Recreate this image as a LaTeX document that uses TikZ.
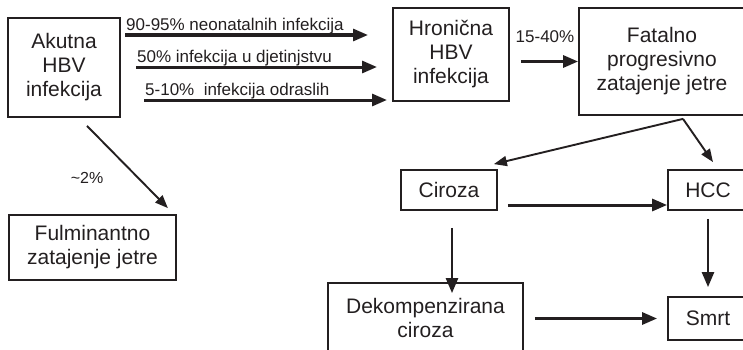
\documentclass[tikz,border=0pt]{standalone}
\usepackage{fontspec}
\setmainfont{Liberation Sans}
\usetikzlibrary{arrows.meta}
\definecolor{ink}{HTML}{231F20}
\tikzset{
	box/.style={draw=ink, line width=1.8pt, text=ink, align=center, inner sep=0pt, font=\fontsize{21}{24}\selectfont},
	arr/.style={draw=ink, line width=3pt, -{Triangle[length=15pt,width=12pt]}},
	arrthin/.style={draw=ink, line width=1.9pt, -{Triangle[length=13pt,width=10pt]}},
	lbl/.style={text=ink, inner sep=1pt, font=\fontsize{17}{20}\selectfont}
}
\begin{document}
\begin{tikzpicture}[x=1pt,y=1pt]
		\useasboundingbox (0,0) rectangle (743,349);
		\node[box, minimum width=112pt, minimum height=99pt] (akut) at (64,281.5) {Akutna\\HBV\\infekcija};
		\node[box, minimum width=116pt, minimum height=93pt] (hron) at (451,294.5) {Hronična\\HBV\\infekcija};
		\node[box, minimum width=166pt, minimum height=107pt] (fatal) at (662,287.5) {Fatalno\\progresivno\\zatajenje jetre};
		\node[box, minimum width=167pt, minimum height=65pt] (fulm) at (92.5,101.5) {Fulminantno\\zatajenje jetre};
		\node[box, minimum width=96pt, minimum height=40pt] (ciroza) at (449,159) {Ciroza};
		\node[box, minimum width=80pt, minimum height=40pt] (hcc) at (708,159) {HCC};
		\node[box, minimum width=195pt, minimum height=70pt] (dekomp) at (425.5,31) {Dekompenzirana\\ciroza};
		\node[box, minimum width=80pt, minimum height=43pt] (smrt) at (708,30.5) {Smrt};
		\coordinate (n1s) at (125,314);
		\coordinate (n1e) at (368,314);
		\coordinate (n2s) at (136,282);
		\coordinate (n2e) at (377,282);
		\coordinate (n3s) at (144,249);
		\coordinate (n3e) at (387,249);
		\draw[arr] (n1s) -- (n1e);
		\draw[arr] (n2s) -- (n2e);
		\draw[arr] (n3s) -- (n3e);
		\node[lbl, anchor=south west] (l1) at (n1s) {90-95\% neonatalnih infekcija};
		\node[lbl, anchor=south west] (l2) at (n2s) {50\% infekcija u djetinjstvu};
		\node[lbl, anchor=south west] (l3) at (n3s) {5-10\%\ \ infekcija odraslih};
		\draw[arr] ([xshift=11pt]hron.east |- fatal.west) -- (fatal.west);
		\node[lbl] (l4) at (545,312) {15-40\%};
		\draw[arrthin] ([shift={(23pt,-8pt)}]akut.south) -- ([shift={(-9pt,6pt)}]fulm.north east);
		\node[lbl, font=\fontsize{16}{19}\selectfont] (l5) at (87,171) {\textasciitilde2\%};
		\coordinate (split) at ([shift={(21pt,-3pt)}]fatal.south);
		\draw[arrthin] (split) -- ([shift={(-4pt,5pt)}]ciroza.north east);
		\draw[arrthin] (split) -- ([shift={(5pt,7pt)}]hcc.north);
		\draw[arr] ([shift={(10pt,-15pt)}]ciroza.east) -- ([yshift=-15pt]hcc.west);
		\draw[arr, line width=2.5pt, shorten >=6pt] ([shift={(3pt,-17pt)}]ciroza.south) -- ([shift={(3pt,-17pt)}]ciroza.south |- dekomp.north);
		\draw[arr, line width=2.5pt, shorten >=9pt] ([yshift=-8pt]hcc.south) -- (smrt.north);
		\draw[arr, shorten >=10pt] ([xshift=11pt]dekomp.east |- smrt.west) -- (smrt.west);
	\end{tikzpicture}
\end{document}
